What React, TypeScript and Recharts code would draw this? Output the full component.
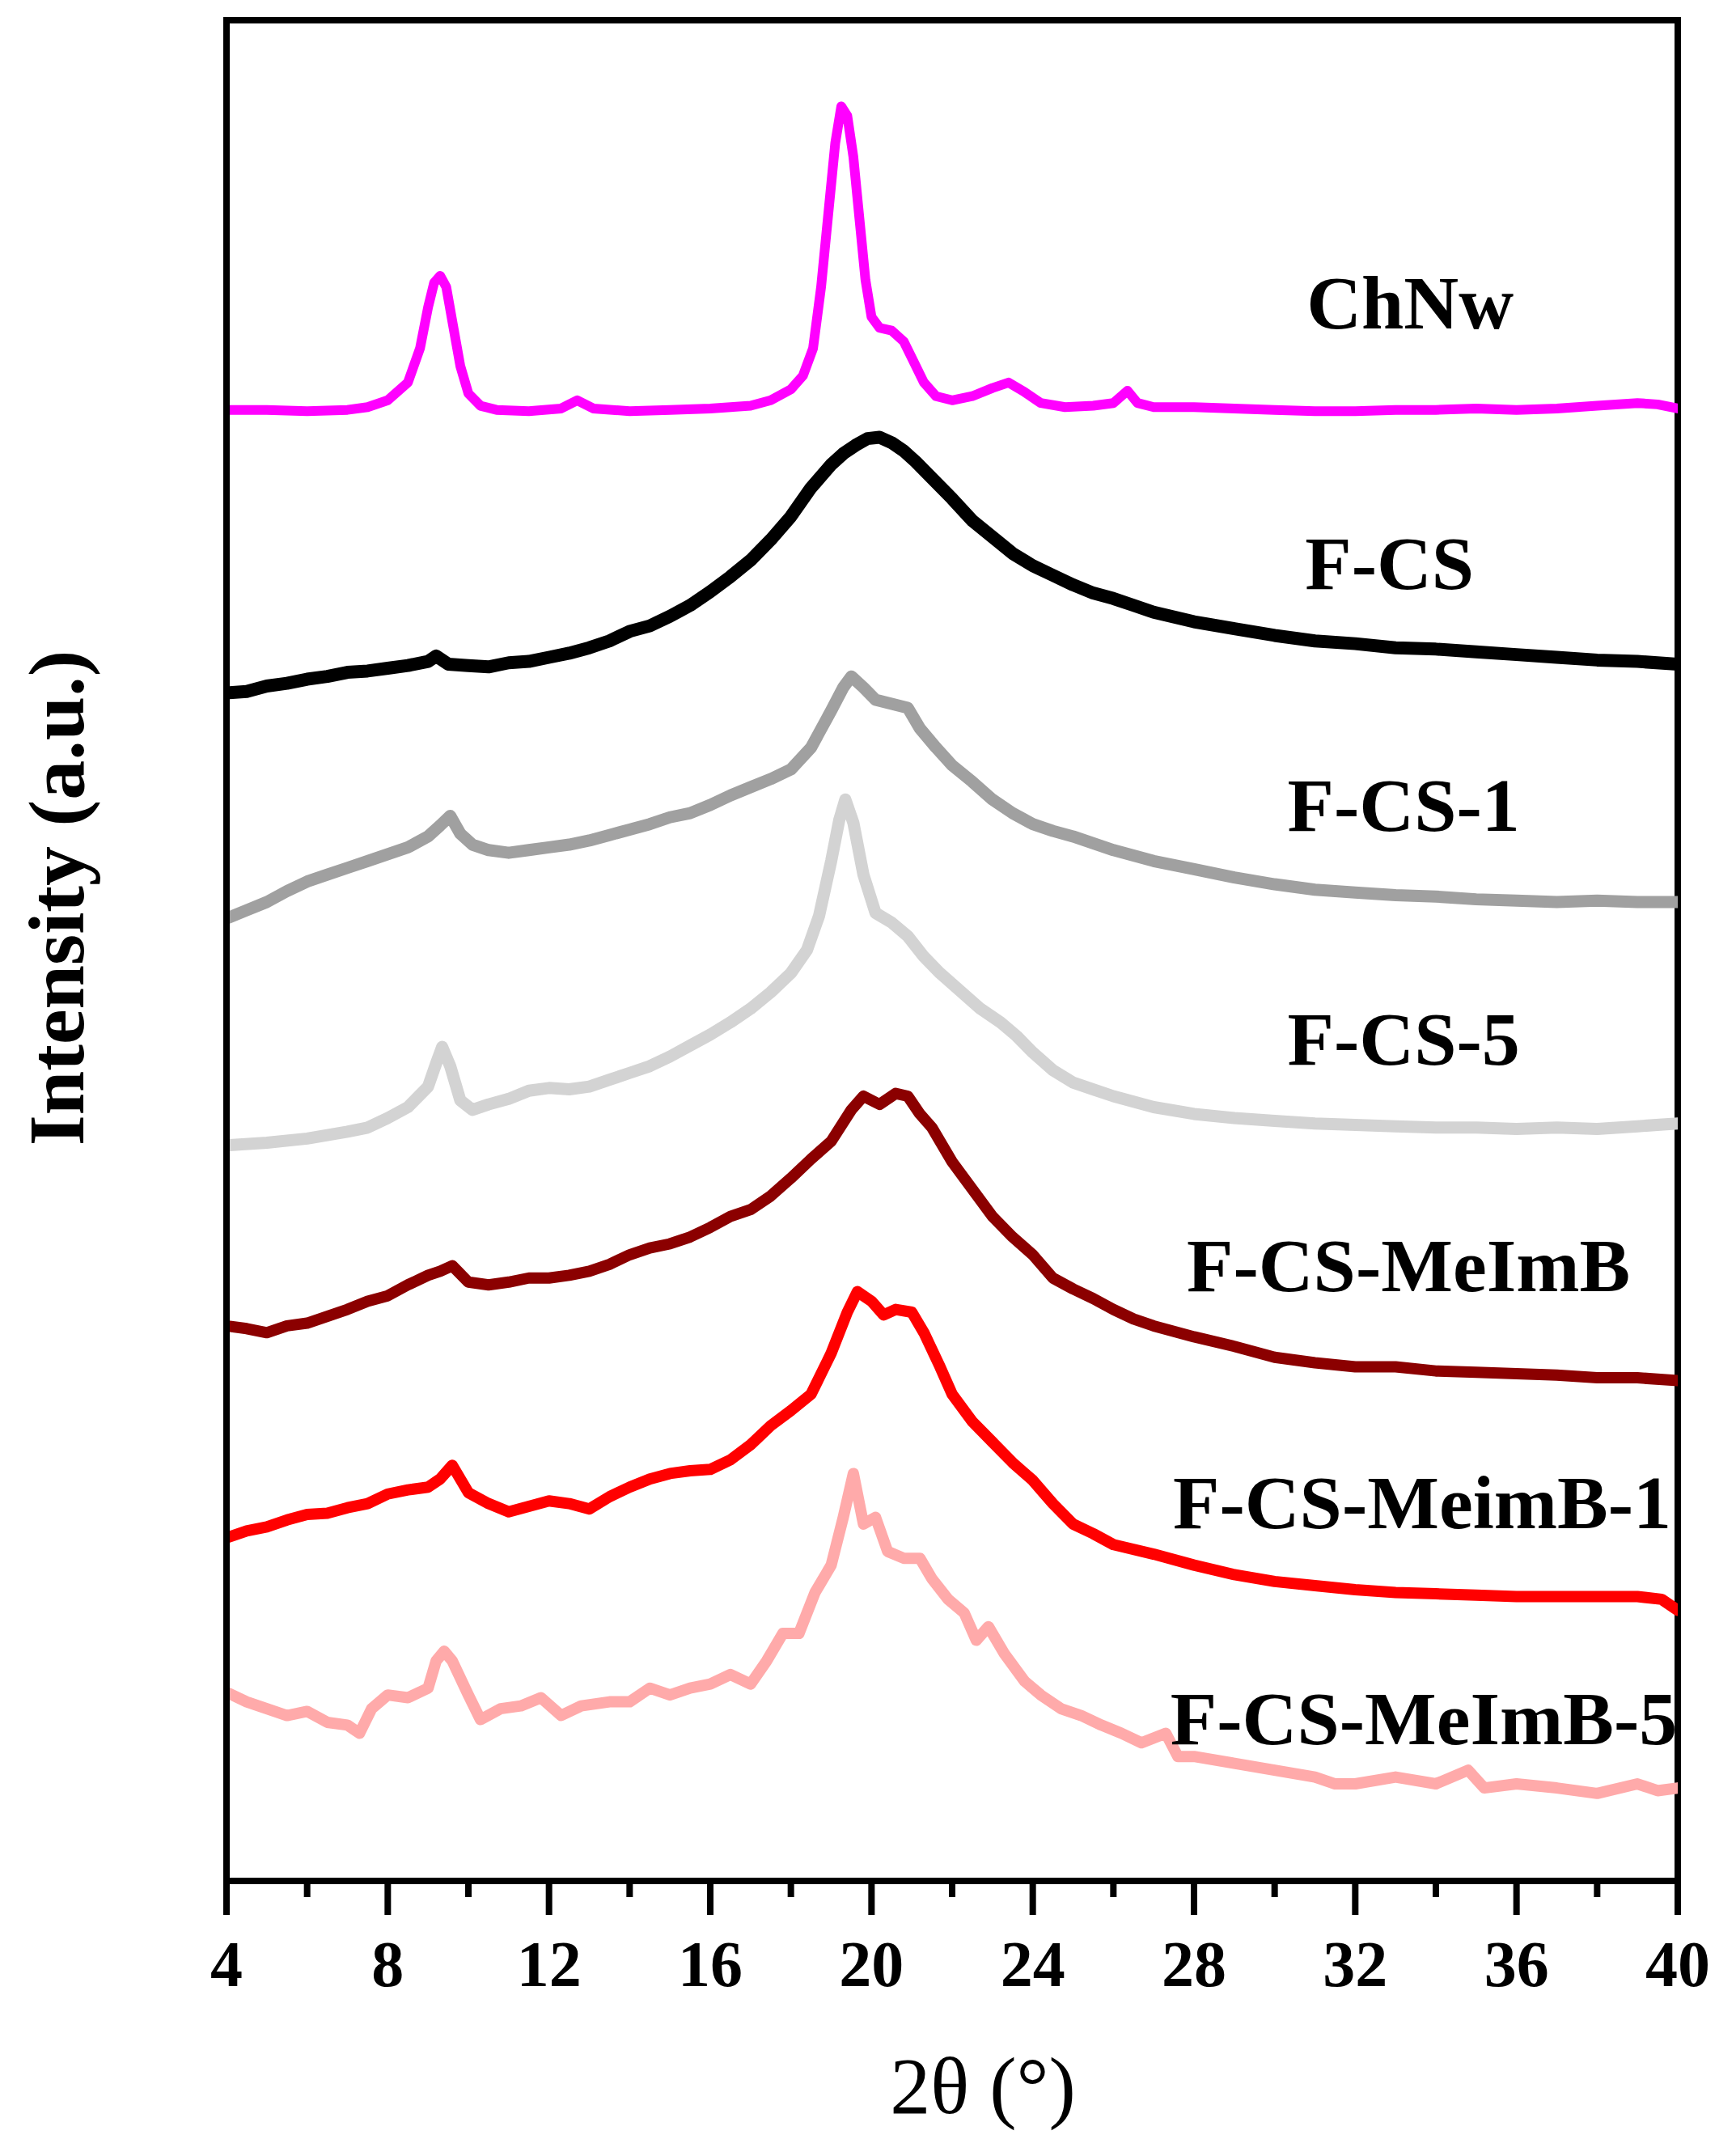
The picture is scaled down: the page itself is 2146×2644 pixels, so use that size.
import React from "react"
import { LineChart, Line, XAxis, YAxis, ReferenceLine, ReferenceDot } from "recharts"

const FONT = '"Liberation Serif", "DejaVu Serif", serif'

// 2θ ticks (majors every 4°, minors in between)
const thetaTicks = [4, 6, 8, 10, 12, 14, 16, 18, 20, 22, 24, 26, 28, 30, 32, 34, 36, 38, 40]

// vertical offsets used to stack the patterns
const offsets = [1066, 866, 696, 536, 356, 196, 56]

// [2θ, intensity above the series' own reference level]
const chnw = [
  [4, 10], [5, 10], [6, 9], [7, 10], [7.5, 12], [8, 17], [8.5, 30], [8.8, 55], [9.0, 85], [9.15, 103],
  [9.3, 108], [9.45, 100], [9.6, 75], [9.8, 42], [10.0, 22], [10.3, 13], [10.7, 10], [11.5, 9], [12.3, 11],
  [12.7, 17], [13.1, 11], [14, 9], [15, 10], [16, 11], [17, 13], [17.5, 17], [18, 25], [18.3, 35],
  [18.55, 55], [18.75, 100], [18.95, 160], [19.1, 205], [19.25, 232], [19.4, 225], [19.55, 195],
  [19.7, 150], [19.85, 105], [20.0, 78], [20.2, 70], [20.5, 68], [20.8, 60], [21.0, 48], [21.3, 30],
  [21.6, 20], [22.0, 17], [22.5, 20], [23.0, 26], [23.4, 30], [23.8, 23], [24.2, 15], [24.8, 12],
  [25.5, 13], [26.0, 15], [26.35, 24], [26.6, 15], [27, 12], [28, 12], [29, 11], [30, 10], [31, 9],
  [32, 9], [33, 10], [34, 10], [35, 11], [36, 10], [37, 11], [38, 13], [39, 15], [39.5, 14], [40, 11],
]

const fcs = [
  [4, 3], [4.5, 4], [5, 8], [5.5, 10], [6, 13], [6.5, 15], [7, 18], [7.5, 19], [8, 21], [8.5, 23],
  [9, 26], [9.2, 30], [9.5, 24], [10, 23], [10.5, 22], [11, 25], [11.5, 26], [12, 29], [12.5, 32],
  [13, 36], [13.5, 41], [14, 48], [14.5, 52], [15, 59], [15.5, 67], [16, 77], [16.5, 88], [17, 100],
  [17.5, 115], [18, 132], [18.5, 153], [19, 170], [19.3, 178], [19.6, 184], [19.9, 189], [20.2, 190],
  [20.5, 186], [20.8, 180], [21.1, 172], [21.5, 160], [22, 145], [22.5, 129], [23, 117], [23.5, 105],
  [24, 96], [24.5, 89], [25, 82], [25.5, 76], [26, 72], [26.5, 67], [27, 62], [28, 55], [29, 50],
  [30, 45], [31, 41], [32, 39], [33, 36], [34, 35], [35, 33], [36, 31], [37, 29], [38, 27], [39, 26],
  [40, 24],
]

const fcs1 = [
  [4, 8], [4.5, 14], [5, 20], [5.5, 28], [6, 35], [6.5, 40], [7, 45], [7.5, 50], [8, 55], [8.5, 60],
  [9, 68], [9.3, 76], [9.55, 83], [9.8, 70], [10.1, 62], [10.5, 58], [11, 56], [11.5, 58], [12, 60],
  [12.5, 62], [13, 65], [13.5, 69], [14, 73], [14.5, 77], [15, 82], [15.5, 85], [16, 91], [16.5, 98],
  [17, 104], [17.5, 110], [18, 117], [18.5, 133], [19, 160], [19.3, 177], [19.5, 185], [19.8, 177],
  [20.1, 168], [20.5, 165], [20.9, 162], [21.2, 147], [21.6, 133], [22, 120], [22.5, 108], [23, 95],
  [23.5, 85], [24, 77], [24.5, 72], [25, 68], [25.5, 63], [26, 58], [26.5, 54], [27, 50], [28, 44],
  [29, 38], [30, 33], [31, 29], [32, 27], [33, 25], [34, 24], [35, 22], [36, 21], [37, 20], [38, 21],
  [39, 20], [40, 20],
]

const fcs5 = [
  [4, 2], [5, 4], [6, 7], [7, 12], [7.5, 15], [8, 22], [8.5, 30], [9, 45], [9.2, 62], [9.35, 74],
  [9.55, 60], [9.8, 35], [10.1, 28], [10.5, 32], [11, 36], [11.5, 42], [12, 44], [12.5, 43], [13, 45],
  [13.5, 50], [14, 55], [14.5, 60], [15, 67], [15.5, 75], [16, 83], [16.5, 92], [17, 102], [17.5, 114],
  [18, 128], [18.4, 145], [18.7, 170], [19.0, 210], [19.2, 240], [19.35, 255], [19.55, 238], [19.8, 200],
  [20.1, 172], [20.5, 165], [20.9, 155], [21.3, 140], [21.7, 128], [22.2, 115], [22.7, 102], [23.2, 92],
  [23.6, 82], [24, 70], [24.5, 57], [25, 48], [25.5, 43], [26, 38], [27, 30], [28, 25], [29, 22],
  [30, 20], [31, 18], [32, 17], [33, 16], [34, 15], [35, 15], [36, 14], [37, 15], [38, 14], [39, 16],
  [40, 18],
]

const fcsMeImB = [
  [4, 50], [4.5, 48], [5, 45], [5.5, 50], [6, 52], [6.5, 57], [7, 62], [7.5, 68], [8, 72], [8.5, 80],
  [9, 87], [9.3, 90], [9.6, 94], [10, 82], [10.5, 80], [11, 82], [11.5, 85], [12, 85], [12.5, 87],
  [13, 90], [13.5, 95], [14, 102], [14.5, 107], [15, 110], [15.5, 115], [16, 122], [16.5, 130],
  [17, 135], [17.5, 145], [18, 158], [18.5, 172], [19, 185], [19.5, 208], [19.8, 218], [20.2, 212],
  [20.6, 220], [20.9, 218], [21.2, 205], [21.5, 195], [22, 170], [22.5, 150], [23, 130], [23.5, 115],
  [24, 102], [24.5, 85], [25, 77], [25.5, 70], [26, 62], [26.5, 55], [27, 50], [28, 42], [29, 35],
  [30, 27], [31, 23], [32, 20], [33, 20], [34, 17], [35, 16], [36, 15], [37, 14], [38, 12], [39, 12],
  [40, 10],
]

const fcsMeimB1 = [
  [4, 55], [4.5, 60], [5, 63], [5.5, 68], [6, 72], [6.5, 73], [7, 77], [7.5, 80], [8, 87], [8.5, 90],
  [9, 92], [9.3, 98], [9.6, 108], [10, 88], [10.5, 80], [11, 74], [11.5, 78], [12, 82], [12.5, 80],
  [13, 76], [13.5, 85], [14, 92], [14.5, 98], [15, 102], [15.5, 104], [16, 105], [16.5, 112], [17, 123],
  [17.5, 137], [18, 148], [18.5, 160], [19, 190], [19.4, 220], [19.65, 235], [20, 228], [20.3, 218],
  [20.6, 222], [21, 220], [21.3, 205], [21.7, 180], [22, 160], [22.5, 140], [23, 125], [23.5, 110],
  [24, 97], [24.5, 80], [25, 65], [25.5, 58], [26, 50], [27, 43], [28, 35], [29, 28], [30, 23],
  [31, 20], [32, 17], [33, 15], [34, 14], [35, 13], [36, 12], [37, 12], [38, 12], [39, 12], [39.6, 10],
  [40, 2],
]

const fcsMeImB5 = [
  [4, 82], [4.5, 75], [5, 70], [5.5, 65], [6, 68], [6.5, 60], [7, 58], [7.3, 52], [7.6, 70], [8, 80],
  [8.5, 78], [9, 85], [9.2, 105], [9.4, 112], [9.6, 105], [10, 80], [10.3, 62], [10.8, 70], [11.3, 72],
  [11.8, 78], [12.3, 65], [12.8, 72], [13.5, 75], [14, 75], [14.5, 85], [15, 80], [15.5, 85], [16, 88],
  [16.5, 95], [17, 88], [17.4, 105], [17.8, 125], [18.2, 125], [18.6, 155], [19.0, 175], [19.3, 210],
  [19.55, 242], [19.8, 205], [20.1, 210], [20.4, 185], [20.8, 180], [21.2, 180], [21.5, 165],
  [21.9, 150], [22.3, 140], [22.6, 120], [22.9, 130], [23.3, 110], [23.8, 90], [24.2, 80], [24.7, 70],
  [25.2, 65], [25.7, 58], [26.2, 52], [26.7, 45], [27.3, 52], [27.6, 35], [28, 35], [29, 30], [30, 25],
  [31, 20], [31.5, 15], [32, 15], [33, 20], [34, 15], [34.8, 25], [35.2, 12], [36, 15], [37, 12],
  [38, 8], [39, 15], [39.5, 10], [40, 12],
]

const seriesNames = ["ChNw", "F-CS", "F-CS-1", "F-CS-5", "F-CS-MeImB", "F-CS-MeimB-1", "F-CS-MeImB-5"]
const seriesColors = ["#FF00FF", "#000000", "#A0A0A0", "#D3D3D3", "#8B0000", "#FF0000", "#FFAAAA"]
const seriesWidths = [12, 16, 15, 15, 14, 14, 14]
const seriesPoints = [chnw, fcs, fcs1, fcs5, fcsMeImB, fcsMeimB1, fcsMeImB5]

// where each name sits (2θ, stacked intensity)
const labelTheta = [33.36, 32.85, 33.2, 33.2, 33.32, 33.66, 33.7]
const labelLevel = [1155, 965, 788, 617, 451, 278, 120]

function AxisTick({ x, y, payload }: any) {
  const major = payload.value % 4 === 0
  return (
    <g>
      <line x1={x} x2={x} y1={y} y2={y + (major ? 42 : 20)} stroke="#000" strokeWidth={8} />
      {major && (
        <text x={x} y={y + 130} textAnchor="middle" fontFamily={FONT} fontWeight="bold" fontSize={80} fill="#000">
          {payload.value}
        </text>
      )}
    </g>
  )
}

function XTitle({ viewBox }: any) {
  return (
    <text x={viewBox.x + viewBox.width / 2 + 38} y={viewBox.y + 287} textAnchor="middle" fontFamily={FONT} fontSize={100} fill="#000">
      2θ (°)
    </text>
  )
}

function YTitle({ viewBox }: any) {
  const cy = viewBox.y + viewBox.height / 2 - 65
  return (
    <text transform={`translate(103, ${cy}) rotate(-90)`} textAnchor="middle" fontFamily={FONT} fontWeight="bold" fontSize={98} fill="#000">
      Intensity (a.u.)
    </text>
  )
}

export default function App() {
  return (
    <div style={{ position: "absolute", left: 0, top: 0, width: 2146, height: 2644, background: "#fff" }}>
      <LineChart width={2146} height={2644} margin={{ top: 25, right: 72, left: 0, bottom: 0 }}>
        <XAxis
          type="number"
          dataKey="t"
          domain={[4, 40]}
          ticks={thetaTicks}
          interval={0}
          allowDataOverflow
          height={319}
          tickSize={0}
          tickMargin={0}
          tickLine={false}
          tick={<AxisTick />}
          axisLine={{ stroke: "#000", strokeWidth: 8, strokeLinecap: "square" }}
          label={{ content: <XTitle /> }}
        />
        <YAxis
          type="number"
          domain={[0, 1361]}
          allowDataOverflow
          width={280}
          tick={false}
          tickLine={false}
          axisLine={{ stroke: "#000", strokeWidth: 8, strokeLinecap: "square" }}
          label={{ content: <YTitle /> }}
        />
        <ReferenceLine y={1361} stroke="#000" strokeWidth={8} strokeLinecap="square" />
        <ReferenceLine x={40} stroke="#000" strokeWidth={8} strokeLinecap="square" />
        {seriesPoints.map((pts, i) => (
          <Line
            key={seriesNames[i]}
            data={pts.map(([t, c]) => ({ t, v: c + offsets[i] }))}
            dataKey="v"
            type="linear"
            stroke={seriesColors[i]}
            strokeWidth={seriesWidths[i]}
            strokeLinejoin="round"
            strokeLinecap="round"
            dot={false}
            activeDot={false}
            isAnimationActive={false}
          />
        ))}
        {seriesNames.map((name, i) => (
          <ReferenceDot
            key={`lbl-${name}`}
            x={labelTheta[i]}
            y={labelLevel[i]}
            r={0}
            fill="none"
            stroke="none"
            label={{ value: name, position: "center", fontSize: 94, fontWeight: "bold", fill: "#000", fontFamily: FONT }}
          />
        ))}
      </LineChart>
    </div>
  )
}
